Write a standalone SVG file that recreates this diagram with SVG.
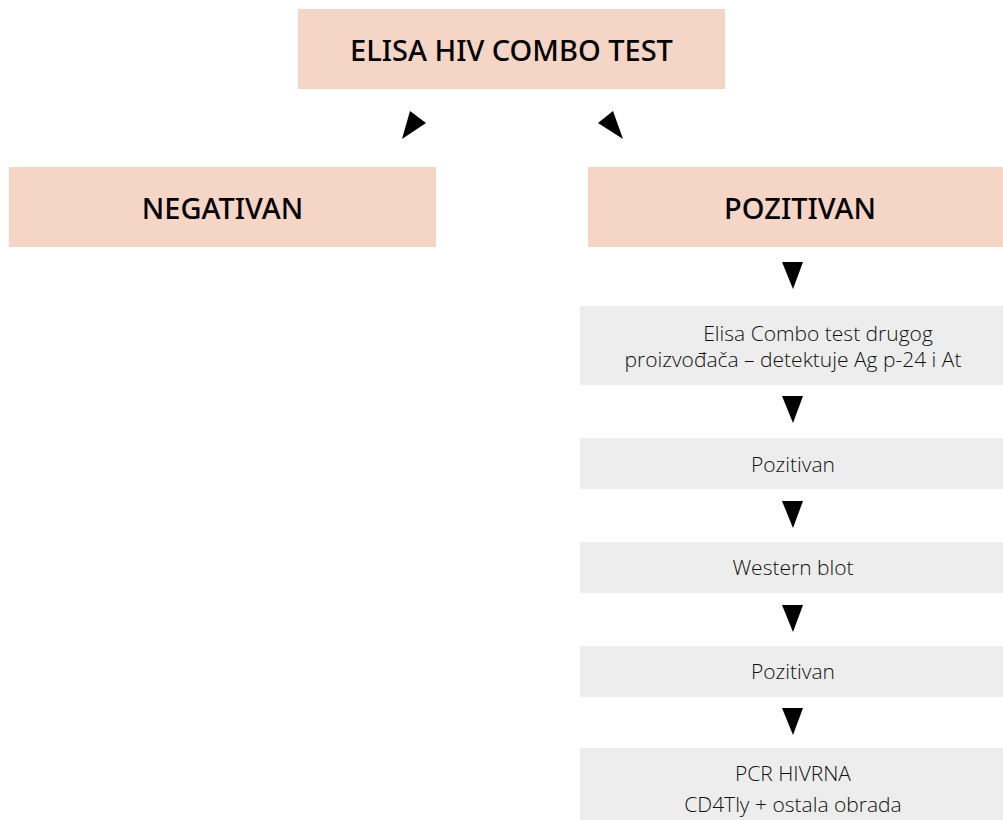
<svg xmlns="http://www.w3.org/2000/svg" width="1003" height="820" viewBox="0 0 1003 820">
<style>
.pk{fill:#f4d5c6}
.gr{fill:#ededed}
.h{font-family:"Noto Sans","Open Sans",sans-serif;font-size:29px;font-weight:500;fill:#000;text-anchor:middle}
.t{font-family:"Open Sans","Noto Sans",sans-serif;font-size:21px;font-weight:300;fill:#111;text-anchor:middle}
.a{fill:#000}
</style>
<rect width="1003" height="820" fill="#fff"/>
<g id="n-elisa"><rect class="pk" x="298" y="9" width="427" height="80"/><text class="h" x="511.5" y="61">ELISA HIV COMBO TEST</text></g>
<g id="n-negativan"><rect class="pk" x="9" y="167" width="427" height="80"/><text class="h" x="222.5" y="219">NEGATIVAN</text></g>
<g id="n-pozitivan"><rect class="pk" x="588" y="167" width="415" height="80"/><text class="h" x="800" y="219">POZITIVAN</text></g>
<g id="n-combo2"><rect class="gr" x="580" y="306" width="423" height="79"/><text class="t" x="818" y="341">Elisa Combo test drugog</text><text class="t" x="793" y="367">proizvođača – detektuje Ag p-24 i At</text></g>
<g id="n-poz1"><rect class="gr" x="580" y="438" width="423" height="51"/><text class="t" x="793" y="472">Pozitivan</text></g>
<g id="n-wb"><rect class="gr" x="580" y="542" width="423" height="51"/><text class="t" x="793" y="575">Western blot</text></g>
<g id="n-poz2"><rect class="gr" x="580" y="646" width="423" height="51"/><text class="t" x="793" y="679">Pozitivan</text></g>
<g id="n-pcr"><rect class="gr" x="580" y="748" width="423" height="72"/><text class="t" x="793" y="781">PCR HIVRNA</text><text class="t" x="793" y="812">CD4Tly + ostala obrada</text></g>
<g id="connectors">
<polygon class="a" points="402,139 410,111 426,123"/>
<polygon class="a" points="623,139 613,111 598,123"/>
<polygon class="a" points="782,262 803,262 793,289"/>
<polygon class="a" points="782,396 803,396 793,423"/>
<polygon class="a" points="782,501 803,501 793,528"/>
<polygon class="a" points="782,605 803,605 793,632"/>
<polygon class="a" points="782,708 803,708 793,735"/>
</g>
</svg>
